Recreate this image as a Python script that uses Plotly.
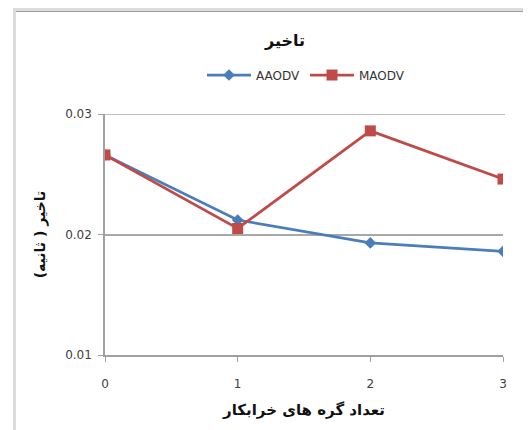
import plotly.graph_objects as go

x_vals = [0, 1, 2, 3]
aaodv = [0.0266, 0.0212, 0.0193, 0.0186]
maodv = [0.0266, 0.0205, 0.0286, 0.0246]
y_ticks = [0.01, 0.02, 0.03]
y_tick_labels = ["0.01", "0.02", "0.03"]

blue = "#4A7EBB"
red = "#BE4B48"

fig = go.Figure()
fig.add_trace(go.Scatter(x=x_vals, y=aaodv, name="AAODV", mode="lines+markers",
                         line=dict(color=blue, width=2.75),
                         marker=dict(symbol="diamond", size=9, color=blue)))
fig.add_trace(go.Scatter(x=x_vals, y=maodv, name="MAODV", mode="lines+markers",
                         line=dict(color=red, width=2.75),
                         marker=dict(symbol="square", size=11, color=red)))

OFF = 8  # page body margin
W, H = 531 - OFF, 430 - OFF
L, R, T, B = 105 - OFF, 28, 114 - OFF, 75
pw, ph = W - L - R, H - T - B

def px(xp):
    return (xp - OFF - L) / pw

def py(yp):
    return (H - B - (yp - OFF)) / ph

shapes = [
    dict(type="rect", xref="paper", yref="paper", x0=px(13), x1=px(540), y0=py(8), y1=py(11),
         fillcolor="#DCDCDC", line=dict(width=0), layer="below"),
    dict(type="line", xref="paper", yref="paper", x0=px(16), x1=px(540), y0=py(11.5), y1=py(11.5),
         line=dict(color="#9A9A9A", width=1.2), layer="below"),
    dict(type="rect", xref="paper", yref="paper", x0=px(13), x1=px(16), y0=py(8), y1=py(440),
         fillcolor="#DCDCDC", line=dict(width=0), layer="below"),
    dict(type="line", xref="paper", yref="y", x0=0, x1=1.005, y0=y_ticks[-1], y1=y_ticks[-1],
         line=dict(color="#A8A8A8", width=1.5), layer="below"),
]

fig.update_layout(
    width=W, height=H,
    margin=dict(l=L, r=R, t=T, b=B),
    paper_bgcolor="white", plot_bgcolor="white",
    font=dict(family="DejaVu Sans", color="#404040", size=12),
    title=dict(text="<b>تاخیر</b>", x=px(285), xref="paper", xanchor="center",
               y=(H - (40 - OFF)) / H, yanchor="middle", font=dict(size=16, color="#111111")),
    legend=dict(orientation="h", x=px(306), xanchor="center", y=py(75), yanchor="middle",
                font=dict(size=12, color="#333333"), bgcolor="rgba(0,0,0,0)",
                itemwidth=44, tracegroupgap=0),
    xaxis=dict(range=[0, 3], tickvals=x_vals, ticks="outside", ticklen=5, tickcolor="#A0A0A0",
               showline=True, linecolor="#A0A0A0", linewidth=1.5, showgrid=False, zeroline=False,
               tickfont=dict(size=12, color="#404040"), ticklabelstandoff=12,
               title=dict(text="<b>تعداد گره های خرابکار</b>", font=dict(size=15, color="#111111"), standoff=14)),
    yaxis=dict(range=[0.01, 0.03], tickvals=y_ticks, ticktext=y_tick_labels, ticks="outside", ticklen=5,
               tickcolor="#A0A0A0", showline=True, linecolor="#A0A0A0", linewidth=1.5,
               showgrid=True, gridcolor="#A8A8A8", gridwidth=1.5, zeroline=False,
               tickfont=dict(size=12, color="#404040"), ticklabelstandoff=4,
               title=dict(text="<b>تاخیر ( ثانیه)</b>", font=dict(size=14, color="#111111"), standoff=16)),
    shapes=shapes,
)

fig.write_html("out.html")
